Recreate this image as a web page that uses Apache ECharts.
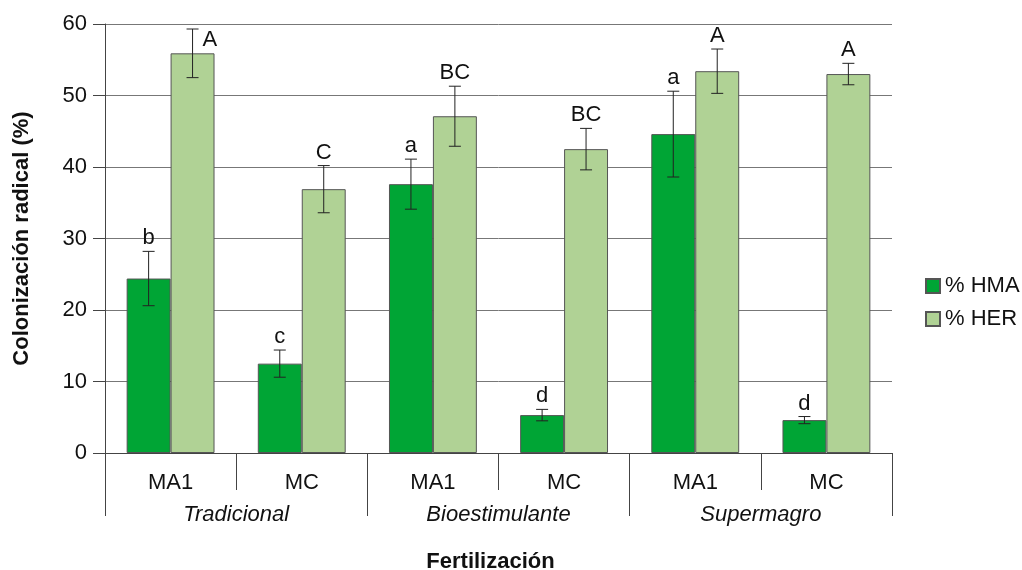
<!DOCTYPE html>
<html>
<head>
<meta charset="utf-8">
<script src="https://cdn.jsdelivr.net/npm/echarts@6/dist/echarts.min.js"></script>
<style>
	html, body { margin: 0; padding: 0; background: #fff; }
	#chart { width: 1022px; height: 570px; }
</style>
</head>
<body>
<div id="chart"></div>
<script>
	// datos
	var tratamientos = ['MA1', 'MC', 'MA1', 'MC', 'MA1', 'MC'];
	var fertilizacion = ['Tradicional', 'Bioestimulante', 'Supermagro'];
	var hma = [24.4, 12.5, 37.6, 5.3, 44.6, 4.6];
	var hmaErr = [3.8, 1.9, 3.5, 0.8, 6.0, 0.5];
	var hmaLetras = ['b', 'c', 'a', 'd', 'a', 'd'];
	var her = [55.9, 36.9, 47.1, 42.5, 53.4, 53.0];
	var herErr = [3.4, 3.3, 4.2, 2.9, 3.1, 1.5];
	var herLetras = ['A', 'C', 'BC', 'BC', 'A', 'A'];
	var yTicks = [0, 10, 20, 30, 40, 50, 60];

	var colorHMA = '#00a535';
	var colorHER = '#b0d295';
	var fuente = 'Liberation Sans, Arial, sans-serif';
	var gap = 0.33;

	function errorSeries(values, errs, letters, side) {
		var data = values.map(function (v, i) { return [i, v, errs[i]]; });
		return {
			type: 'custom',
			xAxisIndex: 0,
			z: 10,
			silent: true,
			data: data,
			renderItem: function (params, api) {
				var i = api.value(0), v = api.value(1), e = api.value(2);
				var letra = letters[params.dataIndex];
				var band = api.size([1, 0])[0];
				var w = band * (1 - gap) / 2;
				var c = api.coord([i, v]);
				var x = c[0] + side * w / 2;
				var top = api.coord([i, v + e])[1];
				var bot = api.coord([i, v - e])[1];
				var cap = 6;
				var st = { stroke: '#222', lineWidth: 1 };
				var txt;
				// si la letra no cabe arriba, va al lado de la barra de error
				if (top - 22 < params.coordSys.y) {
					txt = { type: 'text', style: { text: letra, x: x + cap + 4, y: top + 11, align: 'left', verticalAlign: 'middle', font: '22px ' + fuente, fill: '#111' } };
				} else {
					txt = { type: 'text', style: { text: letra, x: x, y: top - 2, align: 'center', verticalAlign: 'bottom', font: '22px ' + fuente, fill: '#111' } };
				}
				return {
					type: 'group',
					children: [
						{ type: 'line', shape: { x1: x, y1: top, x2: x, y2: bot }, style: st },
						{ type: 'line', shape: { x1: x - cap, y1: top, x2: x + cap, y2: top }, style: st },
						{ type: 'line', shape: { x1: x - cap, y1: bot, x2: x + cap, y2: bot }, style: st },
						txt
					]
				};
			}
		};
	}

	var chart = echarts.init(document.getElementById('chart'));
	var option = {
		backgroundColor: '#fff',
		animation: false,
		textStyle: { fontFamily: fuente },
		grid: { left: 105, right: 130, top: 24, bottom: 117, containLabel: false, outerBoundsMode: 'none' },
		legend: {
			orient: 'vertical',
			left: 920,
			top: 270,
			itemWidth: 14,
			itemHeight: 14,
			itemGap: 11,
			icon: 'rect',
			textStyle: { fontSize: 22, color: '#111', fontFamily: fuente },
			data: ['% HMA', '% HER']
		},
		xAxis: [{
			type: 'category',
			data: tratamientos,
			axisLine: { show: true, lineStyle: { color: '#444', width: 1 } },
			axisTick: { show: true, length: 37, interval: 0, lineStyle: { color: '#444' } },
			axisLabel: { interval: 0, margin: 19, fontSize: 22, color: '#111' }
		}, {
			type: 'category',
			data: fertilizacion,
			position: 'bottom',
			axisLine: { show: false },
			axisTick: { show: true, length: 63, interval: 0, lineStyle: { color: '#444' } },
			axisLabel: { interval: 0, margin: 51, fontSize: 22, fontStyle: 'italic', color: '#111' },
			name: 'Fertilización',
			nameLocation: 'middle',
			nameGap: 98,
			nameTextStyle: { fontSize: 22, fontWeight: 'bold', color: '#111', padding: [0, 16, 0, 0] }
		}],
		yAxis: {
			type: 'value',
			min: yTicks[0],
			max: yTicks[yTicks.length - 1],
			interval: 10,
			name: 'Colonización radical (%)',
			nameLocation: 'middle',
			nameGap: 72,
			nameTextStyle: { fontSize: 22, fontWeight: 'bold', color: '#111' },
			axisLine: { show: true, lineStyle: { color: '#444' } },
			axisTick: { show: true, length: 12, lineStyle: { color: '#444' } },
			axisLabel: { fontSize: 22, color: '#111', margin: 18 },
			splitLine: { show: true, lineStyle: { color: '#777', width: 1 } }
		},
		series: [{
			name: '% HMA',
			type: 'bar',
			data: hma,
			barGap: '0%',
			barCategoryGap: (gap * 100) + '%',
			itemStyle: { color: colorHMA, borderColor: '#555', borderWidth: 1 }
		}, {
			name: '% HER',
			type: 'bar',
			data: her,
			itemStyle: { color: colorHER, borderColor: '#555', borderWidth: 1 }
		},
			errorSeries(hma, hmaErr, hmaLetras, -1),
			errorSeries(her, herErr, herLetras, 1)
		]
	};
	chart.setOption(option);
</script>
</body>
</html>
